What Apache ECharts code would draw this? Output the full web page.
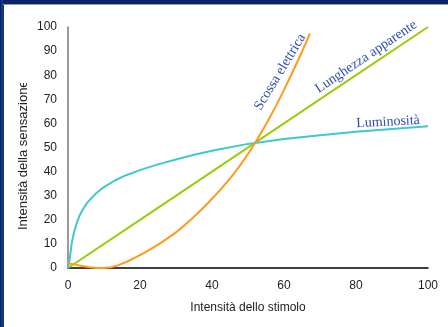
<!DOCTYPE html>
<html>
<head>
<meta charset="utf-8">
<script src="https://cdn.jsdelivr.net/npm/echarts@6/dist/echarts.min.js"></script>
<style>
html,body{margin:0;padding:0;background:#fff;}
#c{width:448px;height:327px;}
</style>
</head>
<body>
<div id="c"></div>
<script>
// ---- data ----
var xTicks = [0, 20, 40, 60, 80, 100];
var yTicks = [0, 10, 20, 30, 40, 50, 60, 70, 80, 90, 100];

var luminositaX = [0, 0.5, 1, 1.7, 2.5, 3.3, 4.2, 5.2, 6.5, 8, 10, 13, 16, 20, 25, 30, 35, 41, 50, 60, 70, 80, 90, 100];
var luminositaY = [0, 4, 10, 15, 19, 22, 24.5, 26.8, 29, 31.2, 33.6, 36.3, 38.4, 40.6, 43, 45, 47, 49, 51.5, 53.5, 55.1, 56.5, 57.7, 58.8];

var lunghezzaX = [0, 20, 40, 60, 80, 100];
var lunghezzaY = [0, 20, 40, 60, 80, 100];

var scossaX = [0, 2, 4, 6, 8, 10, 12, 14, 16.3, 18.5, 20.9, 23.2, 25.6, 27.9, 30.2, 32.5, 34.8, 37.1, 39.4, 41.8, 44.1, 46, 47.8, 50, 52, 54, 56, 58, 60, 62, 64, 66, 67.2];
var scossaY = [2, 1.4, 0.8, 0.3, 0.05, 0, 0.3, 1.2, 2.6, 4.2, 6.1, 8, 10.2, 12.6, 15, 17.9, 21, 24.3, 27.8, 31.6, 35.5, 39, 42.6, 47.3, 52, 57, 62.3, 67.9, 73.9, 80.1, 86.5, 93.1, 97.3];

var xName = 'Intensità dello stimolo';
var yName = 'Intensità della sensazione';

var curveLabels = ['Scossa elettrica', 'Lunghezza apparente', 'Luminosità'];
var curveLabelAnchors = [[58.9, 81.3], [82.8, 87.6], [88.9, 60.6]];
var curveLabelAngles = [58.7, 34, 3];

function pairs(xs, ys){ return xs.map(function(x,i){ return [x, ys[i]]; }); }

var chart = echarts.init(document.getElementById('c'), null, {renderer:'canvas'});
var sans = 'Liberation Sans, Arial, sans-serif';
var serif = 'Liberation Serif, Times New Roman, serif';

chart.setOption({
  animation: false,
  backgroundColor: '#ffffff',
  grid: {left: 68, right: 20, top: 27, bottom: 59, containLabel: false},
  xAxis: {
    type: 'value', min: 0, max: 100, interval: 20,
    axisLine: {show: true, lineStyle: {color: '#000000', width: 1.5}},
    axisTick: {show: false},
    splitLine: {show: false},
    axisLabel: {color: '#222', fontFamily: sans, fontSize: 12, margin: 12,
      formatter: function(v){ return xTicks.indexOf(v) >= 0 ? String(v) : ''; }},
    name: xName, nameLocation: 'middle', nameGap: 40,
    nameTextStyle: {color: '#222', fontFamily: sans, fontSize: 12, verticalAlign: 'middle'}
  },
  yAxis: {
    type: 'value', min: 0, max: 100, interval: 10,
    axisLine: {show: true, lineStyle: {color: '#7a7a7a', width: 1.5}},
    axisTick: {show: false},
    splitLine: {show: false},
    axisLabel: {color: '#222', fontFamily: sans, fontSize: 12, margin: 11,
      formatter: function(v){ return yTicks.indexOf(v) >= 0 ? String(v) : ''; }}
  },
  series: [
    {type: 'line', name: 'Luminosità', data: pairs(luminositaX, luminositaY), showSymbol: false,
      smooth: false,
      lineStyle: {color: '#3ec9cf', width: 2}, itemStyle: {color: '#3ec9cf'}, z: 3},
    {type: 'line', name: 'Lunghezza apparente', data: pairs(lunghezzaX, lunghezzaY), showSymbol: false,
      lineStyle: {color: '#9acd0a', width: 2}, itemStyle: {color: '#9acd0a'}, z: 2},
    {type: 'line', name: 'Scossa elettrica', data: pairs(scossaX, scossaY), showSymbol: false,
      smooth: false,
      lineStyle: {color: '#ff9a1a', width: 2}, itemStyle: {color: '#ff9a1a'}, z: 4}
  ]
});

var graphics = [
  {type: 'text', x: 23, y: 230, rotation: Math.PI/2,
    style: {text: yName, font: '13px ' + sans, fill: '#222', align: 'left', verticalAlign: 'middle'}, z: 50},
  {type: 'rect', shape: {x: 8, y: 50, width: 30, height: 33}, style: {fill: '#ffffff'}, z: 51},
  {type: 'rect', shape: {x: 0, y: 0, width: 448, height: 4}, style: {fill: '#0a2465'}, z: 100},
  {type: 'rect', shape: {x: 0, y: 4, width: 448, height: 1}, style: {fill: '#9a9a9a'}, z: 100},
  {type: 'rect', shape: {x: 0, y: 0, width: 3, height: 327}, style: {fill: '#0c3a9c'}, z: 101},
  {type: 'rect', shape: {x: 0, y: 0, width: 1, height: 327}, style: {fill: '#0a1f55'}, z: 102},
  {type: 'rect', shape: {x: 3, y: 5, width: 1, height: 322}, style: {fill: '#333'}, z: 102}
];
curveLabels.forEach(function(t, i){
  var p = chart.convertToPixel({gridIndex: 0}, curveLabelAnchors[i]);
  graphics.push({type: 'text', x: p[0], y: p[1], rotation: curveLabelAngles[i] * Math.PI / 180,
    style: {text: t, font: '14px ' + serif, fill: '#2f4fae', align: 'center', verticalAlign: 'middle'}, z: 60});
});
chart.setOption({graphic: graphics});
</script>
</body>
</html>
